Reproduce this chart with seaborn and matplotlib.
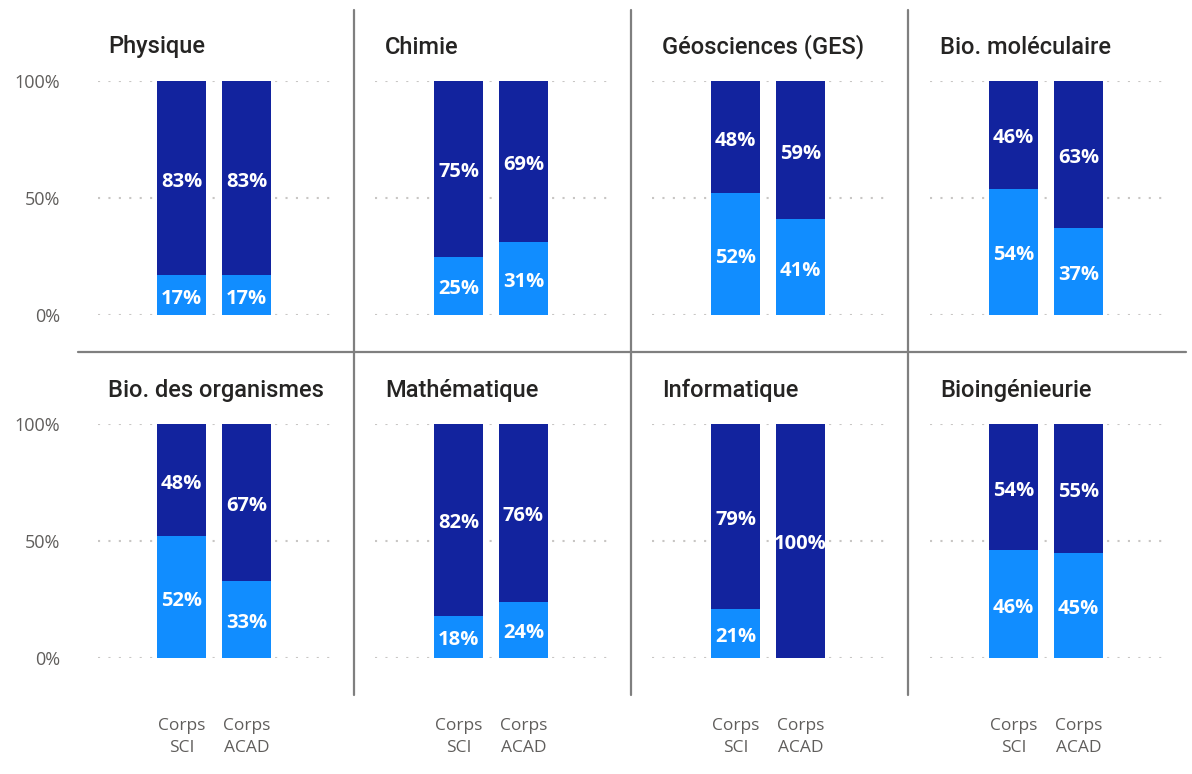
import matplotlib
matplotlib.use("Agg")
import matplotlib.pyplot as plt
from matplotlib.lines import Line2D
import seaborn as sns
import pandas as pd

# Disciplines shown as small multiples (row-major order)
disciplines = [
    "Physique", "Chimie", "Géosciences (GES)", "Bio. moléculaire",
    "Bio. des organismes", "Mathématique", "Informatique", "Bioingénieurie",
]
corps = ["Corps\nSCI", "Corps\nACAD"]

# Share (%) of the light-blue segment for each corps, per discipline
light_sci = [17, 25, 52, 54, 52, 18, 21, 46]
light_acad = [17, 31, 41, 37, 33, 24, 0, 45]
# Share (%) of the dark-blue segment for each corps, per discipline
dark_sci = [83, 75, 48, 46, 48, 82, 79, 54]
dark_acad = [83, 69, 59, 63, 67, 76, 100, 55]

y_ticks = [0, 50, 100]
y_tick_labels = ["0%", "50%", "100%"]

LIGHT = "#118DFF"
DARK = "#12239E"
TITLE_C = "#252423"
TICK_C = "#605E5C"
GRID_C = "#C8C6C4"
SEP_C = "#7F7F7F"

rows = []
for i, d in enumerate(disciplines):
    for c, lv, dv in ((corps[0], light_sci[i], dark_sci[i]), (corps[1], light_acad[i], dark_acad[i])):
        rows.append({"discipline": d, "corps": c, "light": lv, "dark": dv, "total": lv + dv})
df = pd.DataFrame(rows)

sns.set_theme(style="white")
plt.rcParams["font.family"] = ["Open Sans", "DejaVu Sans"]

W, H = 1192, 774
fig = plt.figure(figsize=(W / 100, H / 100), dpi=100)

col_left = [98, 375, 652, 930]
row_top = [81, 424]
ax_w, ax_h = 232, 234

for idx, d in enumerate(disciplines):
    r, c = divmod(idx, 4)
    left = col_left[c]
    top = row_top[r]
    ax = fig.add_axes([left / W, 1 - (top + ax_h) / H, ax_w / W, ax_h / H])
    sub = df[df["discipline"] == d]

    # stacked: full bar in dark, then the light share drawn over its base
    sns.barplot(data=sub, x="corps", y="total", order=corps, color=DARK,
                width=0.754, saturation=1, ax=ax, zorder=2)
    sns.barplot(data=sub, x="corps", y="light", order=corps, color=LIGHT,
                width=0.754, saturation=1, ax=ax, zorder=3)
    for p in ax.patches:
        p.set_linewidth(0)

    ax.set_xlim(-1.285, 2.285)
    ax.set_ylim(0, 100)
    ax.set_yticks(y_ticks)
    for y in y_ticks:
        ax.axhline(y, color=GRID_C, lw=1.5, ls=(0, (1, 4)), zorder=1)
    ax.set_xlabel("")
    ax.set_ylabel("")
    for s in ax.spines.values():
        s.set_visible(False)
    ax.tick_params(length=0)

    if c == 0:
        ax.set_yticklabels(y_tick_labels, fontsize=13, color=TICK_C)
        ax.tick_params(axis="y", pad=27)
    else:
        ax.set_yticklabels([])

    if r == 1:
        ax.set_xticks(range(len(corps)))
        ax.set_xticklabels(corps, fontsize=12.5, color=TICK_C, linespacing=1.55)
        ax.tick_params(axis="x", pad=43)
    else:
        ax.set_xticklabels([])

    # segment labels
    for j, cp in enumerate(corps):
        rec = sub[sub["corps"] == cp].iloc[0]
        lv, dv = rec["light"], rec["dark"]
        for val, mid in ((lv, lv / 2), (dv, lv + dv / 2)):
            if val > 0:
                ax.annotate(f"{val}%", (j, mid), xytext=(0, -2.5), textcoords="offset points",
                            ha="center", va="center", color="white",
                            fontsize=14.5, fontweight="bold", zorder=5)

    title_y = 47 if r == 0 else 390
    fig.text((left + 10) / W, 1 - title_y / H, d, ha="left", va="center",
             fontsize=17, fontweight="medium", color=TITLE_C,
             family=["Roboto", "DejaVu Sans"])

# panel separators
for x in (354, 631, 908):
    fig.add_artist(Line2D([x / W, x / W], [1 - 10 / H, 1 - 695 / H],
                          transform=fig.transFigure, color=SEP_C, lw=1.6))
fig.add_artist(Line2D([78 / W, 1186 / W], [1 - 352 / H, 1 - 352 / H],
                      transform=fig.transFigure, color=SEP_C, lw=1.6))

fig.savefig("out.png", dpi=100, facecolor="white")
